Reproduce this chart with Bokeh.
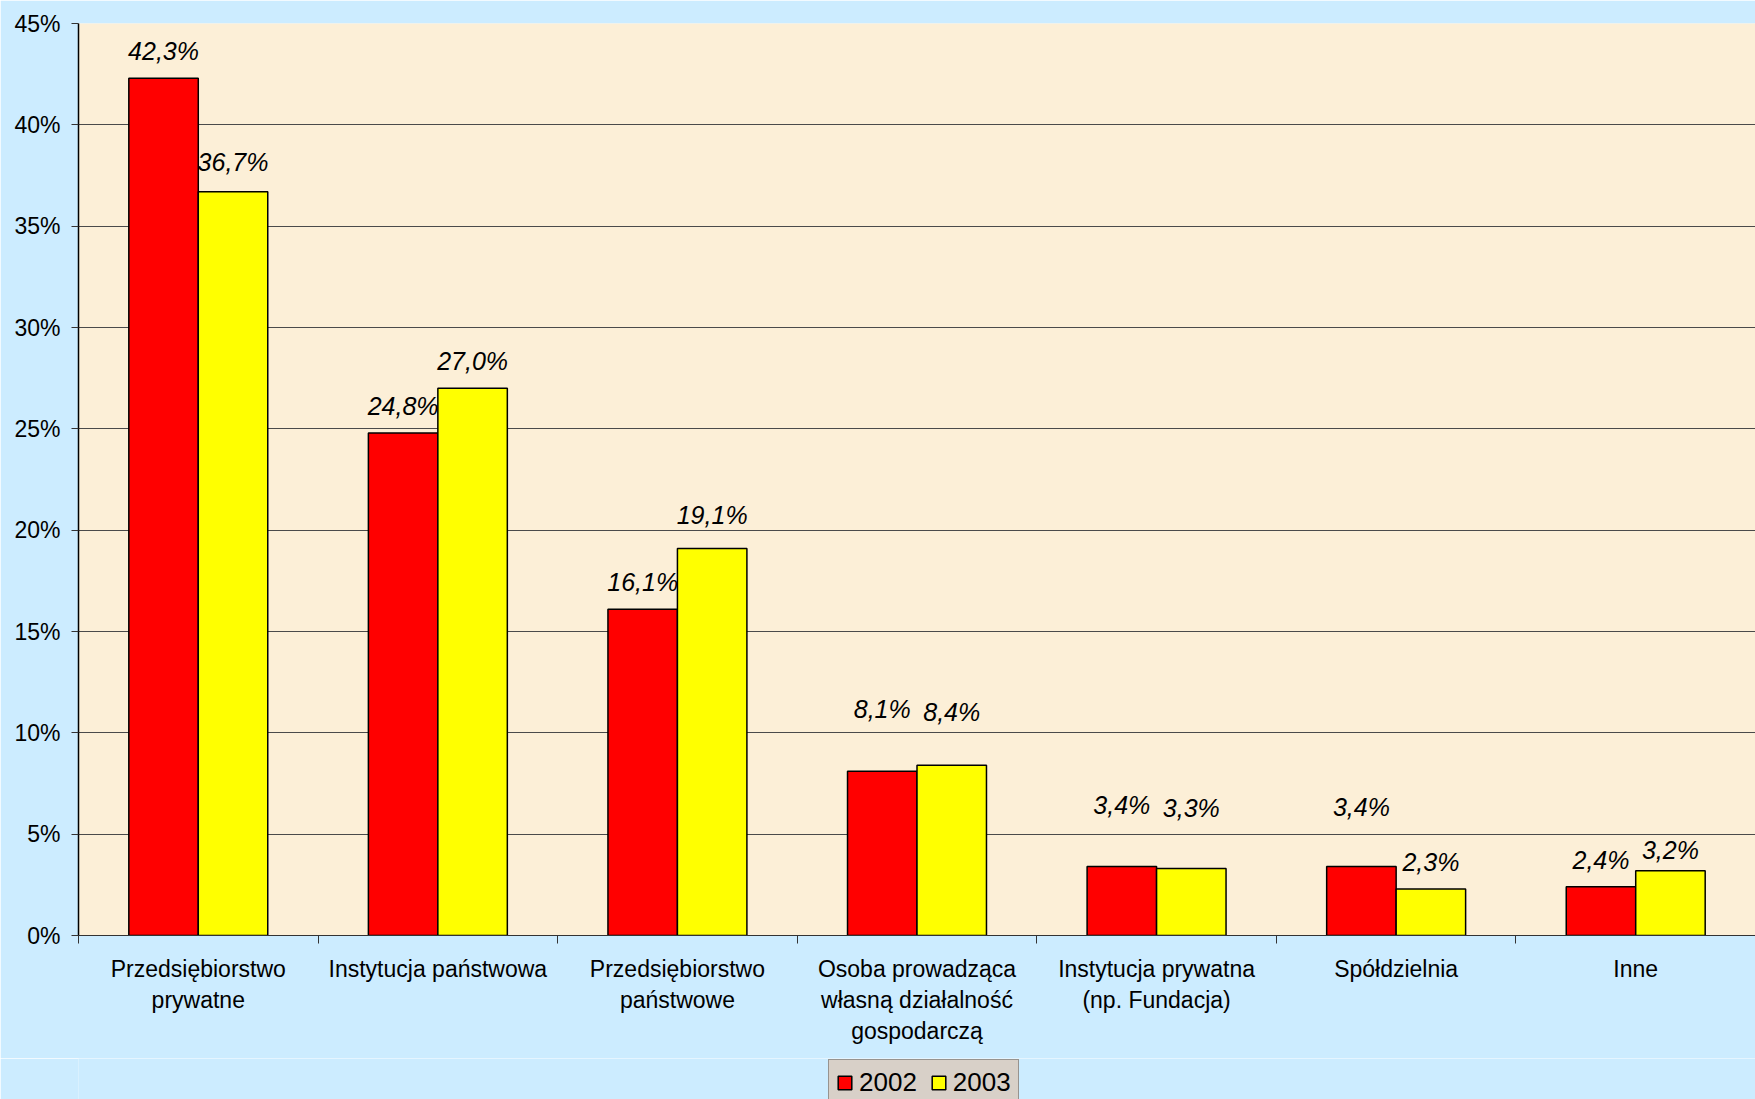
from bokeh.plotting import figure
from bokeh.layouts import column
from bokeh.models import (ColumnDataSource, Range1d, FixedTicker, LabelSet,
                          Legend, LegendItem, PrintfTickFormatter)
from bokeh.core.properties import value
from bokeh.embed import file_html
from bokeh.resources import INLINE

# ---- data ----
categories = [
    "Przedsiębiorstwo\nprywatne",
    "Instytucja państwowa",
    "Przedsiębiorstwo\npaństwowe",
    "Osoba prowadząca\nwłasną działalność\ngospodarczą",
    "Instytucja prywatna\n(np. Fundacja)",
    "Spółdzielnia",
    "Inne",
]
v2002 = [42.3, 24.8, 16.1, 8.1, 3.4, 3.4, 2.4]
v2003 = [36.7, 27.0, 19.1, 8.4, 3.3, 2.3, 3.2]
series_names = ["2002", "2003"]
y_ticks = [0, 5, 10, 15, 20, 25, 30, 35, 40, 45]

# ---- style / layout ----
BG = "#CCECFF"
PLOT_BG = "#FCEFD7"
RED = "#FF0000"
YELLOW = "#FFFF00"
FONT = "Liberation Sans"
BAR_W = 0.29
# label distance above bar top, in pixels (as placed in the original)
off2002 = [27, 27, 27, 62, 62, 60, 27]
off2003 = [30, 27, 33, 53, 61, 27, 21]

n = len(categories)
centers = [i + 0.5 for i in range(n)]


def fmt(v):
    return f"{v:.1f}".replace(".", ",") + "%"


src1 = ColumnDataSource(dict(x=[c - BAR_W / 2 for c in centers], top=v2002,
                             lab=[fmt(v) for v in v2002], off=off2002))
src2 = ColumnDataSource(dict(x=[c + BAR_W / 2 for c in centers], top=v2003,
                             lab=[fmt(v) for v in v2003], off=off2003))

W = 1755
H_MAIN = 1058
H_LEG = 41
p = figure(width=W, height=H_MAIN, output_backend="svg", toolbar_location=None,
           x_range=Range1d(0, n), y_range=Range1d(0, 45),
           min_border_left=78, min_border_top=23, min_border_bottom=H_MAIN - 935,
           min_border_right=0)
p.background_fill_color = PLOT_BG
p.border_fill_color = BG
p.outline_line_color = None

p.vbar(x="x", top="top", width=BAR_W, bottom=0, source=src1,
       fill_color=RED, line_color="black", line_width=1.5)
p.vbar(x="x", top="top", width=BAR_W, bottom=0, source=src2,
       fill_color=YELLOW, line_color="black", line_width=1.5)

for s in (src1, src2):
    p.add_layout(LabelSet(x="x", y="top", text="lab", y_offset="off", source=s,
                          text_align="center", text_baseline="middle",
                          text_font=value(FONT), text_font_style="italic",
                          text_font_size="25px", text_color="black"))

# y axis
p.yaxis.ticker = FixedTicker(ticks=y_ticks)
p.yaxis.formatter = PrintfTickFormatter(format="%d%%")
p.yaxis.major_label_text_font = FONT
p.yaxis.major_label_text_font_size = "23px"
p.yaxis.major_label_text_color = "black"
p.yaxis.major_tick_in = 0
p.yaxis.major_tick_out = 7
p.yaxis.minor_tick_line_color = None
p.yaxis.axis_line_color = "black"
p.yaxis.axis_line_width = 1.5
p.yaxis.major_tick_line_color = "#333333"
p.yaxis.major_label_standoff = 11

# x axis: labels at centers, ticks at category boundaries
p.xaxis.ticker = FixedTicker(ticks=centers, minor_ticks=list(range(n + 1)))
p.xaxis.major_label_overrides = {c: lab for c, lab in zip(centers, categories)}
p.xaxis.major_tick_line_color = None
p.xaxis.minor_tick_in = 0
p.xaxis.minor_tick_out = 8
p.xaxis.minor_tick_line_color = "#333333"
p.xaxis.axis_line_color = "#333333"
p.xaxis.major_label_text_font = FONT
p.xaxis.major_label_text_font_size = "23px"
p.xaxis.major_label_text_color = "black"
p.xaxis.major_label_standoff = 12

p.xgrid.grid_line_color = None
p.ygrid.grid_line_color = "#4A4A4A"
p.ygrid.grid_line_width = 1

# ---- legend strip (separate small figure below the chart) ----
q = figure(width=W, height=H_LEG, output_backend="svg", toolbar_location=None,
           x_range=Range1d(0, 1), y_range=Range1d(0, 1),
           min_border=0, x_axis_type=None, y_axis_type=None)
q.background_fill_color = BG
q.border_fill_color = BG
q.outline_line_color = None
q.grid.visible = False
# legend proxies: tiny, hidden behind the opaque legend box
lr1 = q.vbar(x=[0.5], top=[0.5], bottom=[0.45], width=0.002,
             fill_color=RED, line_color="black", line_width=1.5)
lr2 = q.vbar(x=[0.5], top=[0.5], bottom=[0.45], width=0.002,
             fill_color=YELLOW, line_color="black", line_width=1.5)

legend = Legend(items=[LegendItem(label=series_names[0], renderers=[lr1]),
                       LegendItem(label=series_names[1], renderers=[lr2])],
                orientation="horizontal", location=(750, -7))
legend.background_fill_color = "#D8D0C8"
legend.background_fill_alpha = 1
legend.border_line_color = "#555555"
legend.border_line_width = 1.5
legend.label_text_font = FONT
legend.label_text_font_size = "26px"
legend.label_text_color = "black"
legend.glyph_width = 17
legend.glyph_height = 17
legend.label_standoff = 6
legend.spacing = 13
legend.padding = 7
legend.margin = 0
q.add_layout(legend, "center")

layout = column(p, q, spacing=0)
open("out.html", "w").write(file_html(layout, INLINE))
